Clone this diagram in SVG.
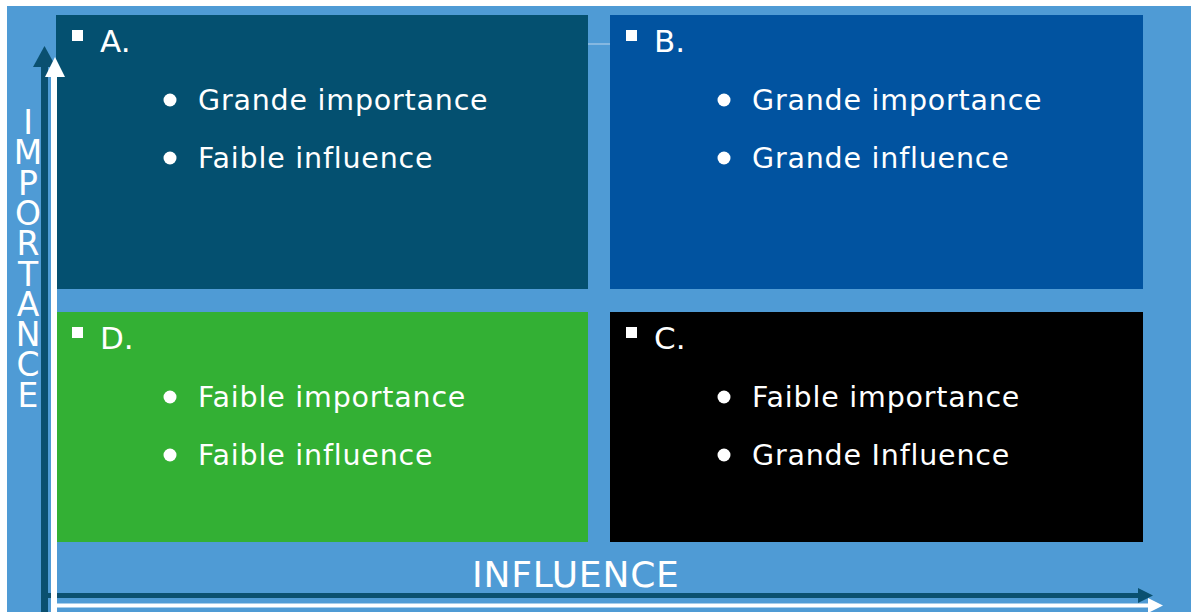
<svg xmlns="http://www.w3.org/2000/svg" width="1191" height="612" viewBox="0 0 1191 612">
<style>
.hd{font-family:"DejaVu Sans",Verdana,sans-serif;font-size:31px;fill:#fff}
.tx{font-family:"DejaVu Sans",Verdana,sans-serif;font-size:28.5px;fill:#fff;letter-spacing:0.8px}
.ax{font-family:"DejaVu Sans",Verdana,sans-serif;fill:#fff}
.vt{writing-mode:vertical-rl;text-orientation:upright}
.sq{fill:#fff}
.dot{fill:#fff}
</style>
<rect x="0" y="0" width="1191" height="612" fill="#fff"/>
<rect x="7" y="6" width="1184" height="606" fill="#4f9bd5"/>
<line x1="588" y1="44" x2="610" y2="44" stroke="#a9cdea" stroke-width="1.2"/>
<g id="quadA">
<rect x="56" y="15" width="532" height="274" fill="#045070"/>
<rect class="sq" x="72" y="30" width="11" height="11"/>
<text class="hd" x="100" y="52">A.</text>
<circle class="dot" cx="170" cy="100" r="6.5"/>
<text class="tx" x="198" y="110">Grande importance</text>
<circle class="dot" cx="170" cy="158" r="6.5"/>
<text class="tx" x="198" y="168">Faible influence</text>
</g>
<g id="quadB">
<rect x="610" y="15" width="533" height="274" fill="#0153a0"/>
<rect class="sq" x="626" y="30" width="11" height="11"/>
<text class="hd" x="654" y="52">B.</text>
<circle class="dot" cx="724" cy="100" r="6.5"/>
<text class="tx" x="752" y="110">Grande importance</text>
<circle class="dot" cx="724" cy="158" r="6.5"/>
<text class="tx" x="752" y="168">Grande influence</text>
</g>
<g id="quadD">
<rect x="56" y="312" width="532" height="230" fill="#33b034"/>
<rect class="sq" x="72" y="327" width="11" height="11"/>
<text class="hd" x="100" y="349">D.</text>
<circle class="dot" cx="170" cy="397" r="6.5"/>
<text class="tx" x="198" y="407">Faible importance</text>
<circle class="dot" cx="170" cy="455" r="6.5"/>
<text class="tx" x="198" y="465">Faible influence</text>
</g>
<g id="quadC">
<rect x="610" y="312" width="533" height="230" fill="#000"/>
<rect class="sq" x="626" y="327" width="11" height="11"/>
<text class="hd" x="654" y="349">C.</text>
<circle class="dot" cx="724" cy="397" r="6.5"/>
<text class="tx" x="752" y="407">Faible importance</text>
<circle class="dot" cx="724" cy="455" r="6.5"/>
<text class="tx" x="752" y="465">Grande Influence</text>
</g>
<g id="axes">
<rect x="41" y="66" width="7" height="546" fill="#0a5070"/>
<polygon points="44.5,46 33,67 56,67" fill="#0a5070"/>
<rect x="41" y="593" width="1098" height="5" fill="#0a5070"/>
<polygon points="1153,595.5 1138,588 1138,603" fill="#0a5070"/>
<rect x="51" y="76" width="6" height="536" fill="#fff"/>
<polygon points="55,57 45,77 65,77" fill="#fff"/>
<rect x="51" y="603.5" width="1098" height="4" fill="#fff"/>
<polygon points="1163,605.5 1148,598 1148,613" fill="#fff"/>
</g>
<g id="labels">
<text class="ax" x="472" y="587" font-size="36" letter-spacing="0.8">INFLUENCE</text>
<text class="ax vt" x="28" y="103" font-size="33" letter-spacing="-8.7">IMPORTANCE</text>
</g>
</svg>
